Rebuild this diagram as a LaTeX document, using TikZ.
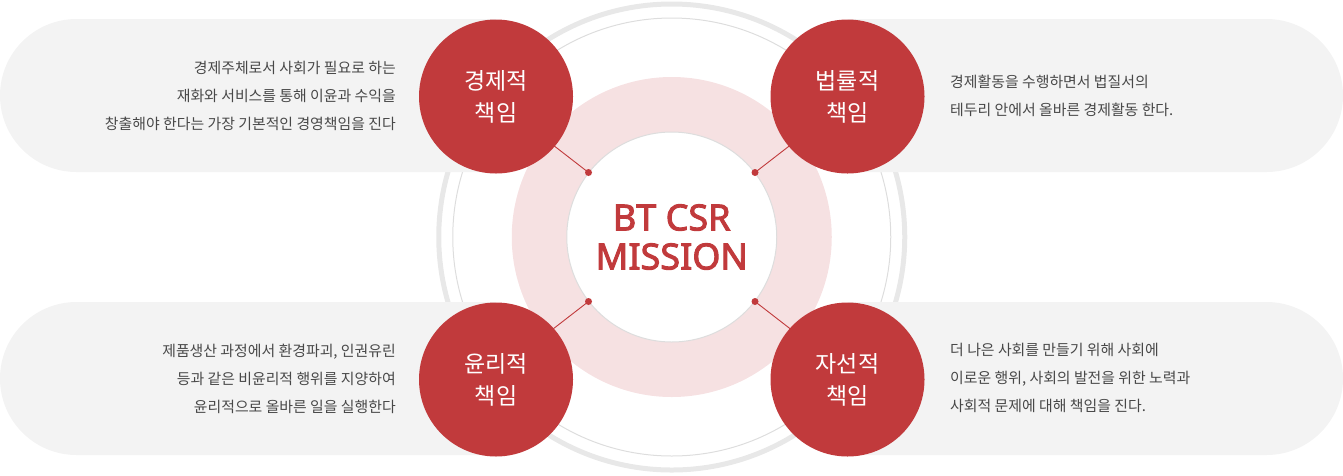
\documentclass[tikz,border=0pt]{standalone}
\usepackage{fontspec}
\setmainfont{Noto Sans}
\newfontfamily\kr{Noto Sans CJK KR}
\newfontfamily\titlefont{Noto Sans}[AutoFakeBold=2.6]
\usetikzlibrary{calc}
\definecolor{redc}{RGB}{193,58,60}
\definecolor{pinkc}{RGB}{246,225,226}
\definecolor{pillc}{RGB}{243,243,243}
\definecolor{ringthick}{RGB}{232,232,232}
\definecolor{ringthin}{RGB}{221,221,221}
\definecolor{textc}{RGB}{72,72,72}
\begin{document}
\begin{tikzpicture}[x=1pt,y=-1pt,
  redcirc/.style={circle, fill=redc, text=white, minimum size=154pt, inner sep=0pt,
    align=center, font=\kr\fontsize{23}{32}\selectfont},
  desc/.style={text=textc, inner sep=0pt, font=\kr\fontsize{14.9}{27.8}\selectfont},
  dotmark/.style={circle, fill=redc, minimum size=7pt, inner sep=0pt},
  link/.style={draw=redc, line width=0.9pt},
  pill/.style={fill=pillc}]
\useasboundingbox (0,0) rectangle (1343,475);
\coordinate (C) at (671.75,237);
% rings
\draw[ringthick, line width=5pt] (C) circle[radius=233pt];
\draw[ringthin, line width=1pt] (C) circle[radius=219pt];
\fill[pinkc] (C) circle[radius=160pt];
\draw[fill=white, draw=ringthin, line width=1pt] (C) circle[radius=105pt];
% pills
\path[pill] (496,19) -- (76.5,19) arc[start angle=90, end angle=270, radius=76.5pt] -- (496,172) -- cycle;
\path[pill] (847.5,19) -- (1266.5,19) arc[start angle=90, end angle=-90, radius=76.5pt] -- (847.5,172) -- cycle;
\path[pill] (496,302) -- (76.5,302) arc[start angle=90, end angle=270, radius=76.5pt] -- (496,455) -- cycle;
\path[pill] (847.5,302) -- (1266.5,302) arc[start angle=90, end angle=-90, radius=76.5pt] -- (847.5,455) -- cycle;
% dots and links
\coordinate (d1) at (588.5,172.5);
\coordinate (d2) at (755,172.5);
\coordinate (d3) at (588.5,301.5);
\coordinate (d4) at (755,301.5);
\foreach \d in {d1,d2,d3,d4}{
  \coordinate (e\d) at ($(C)!1.5!(\d)$);
  \draw[link] (\d) -- (e\d);
  \node[dotmark] at (\d) {};
}
% red circles
\node[redcirc] (n1) at (496,96.5) {경제적\\책임};
\node[redcirc] (n2) at (847.5,96.5) {법률적\\책임};
\node[redcirc] (n3) at (496,379.5) {윤리적\\책임};
\node[redcirc] (n4) at (847.5,379.5) {자선적\\책임};
% center
\node[text=redc, align=center, inner sep=0pt, font=\titlefont\bfseries\fontsize{36}{39}\selectfont] (m) at (C) {BT CSR\\MISSION};
% descriptions
\node[desc, anchor=east, align=right] (t1) at (396,96) {경제주체로서 사회가 필요로 하는\\재화와 서비스를 통해 이윤과 수익을\\창출해야 한다는 가장 기본적인 경영책임을 진다};
\node[desc, anchor=west, align=left] (t2) at (950,95.5) {경제활동을 수행하면서 법질서의\\테두리 안에서 올바른 경제활동 한다.};
\node[desc, anchor=east, align=right] (t3) at (396,379) {제품생산 과정에서 환경파괴, 인권유린\\등과 같은 비윤리적 행위를 지양하여\\윤리적으로 올바른 일을 실행한다};
\node[desc, anchor=west, align=left] (t4) at (950,378) {더 나은 사회를 만들기 위해 사회에\\이로운 행위, 사회의 발전을 위한 노력과\\사회적 문제에 대해 책임을 진다.};
\end{tikzpicture}
\end{document}
